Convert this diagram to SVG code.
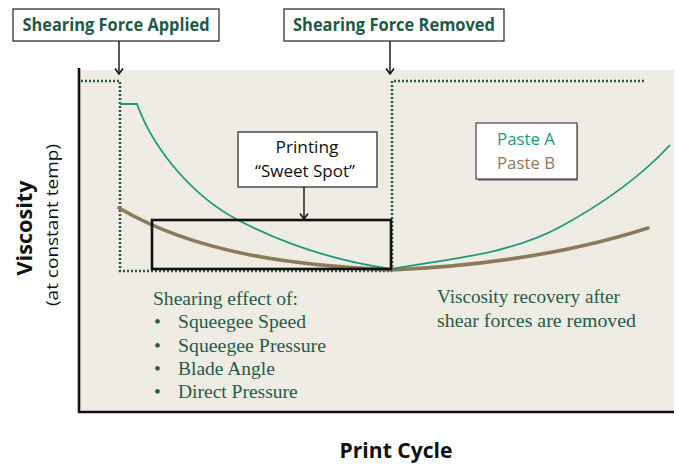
<svg xmlns="http://www.w3.org/2000/svg" width="679" height="464" viewBox="0 0 679 464">
  <defs>
    <marker id="chev" markerWidth="10" markerHeight="10" refX="8.5" refY="5" orient="auto" markerUnits="userSpaceOnUse" viewBox="0 0 10 10">
      <path d="M3,1 L8.5,5 L3,9" fill="none" stroke="#111" stroke-width="1.6"/>
    </marker>
  </defs>
  <style>
    .callout { fill: #fff; stroke: #222; stroke-width: 1.2; }
    .hdr { font-family: "Open Sans", "Liberation Sans", sans-serif; font-weight: bold; font-size: 17.5px; fill: #1f5a45; }
    .sans { font-family: "Open Sans", "Liberation Sans", sans-serif; font-size: 16.5px; }
    .serif { font-family: "Liberation Serif", "DejaVu Serif", serif; font-size: 19.5px; fill: #245c48; }
    .dots { fill: none; stroke: #2b5a47; stroke-width: 2.6; stroke-dasharray: 2 2; }
    .lead { stroke: #111; stroke-width: 1.4; fill: none; marker-end: url(#chev); }
    .axis { stroke: #111; stroke-width: 2.6; fill: none; }
    .ttl { font-family: "Open Sans", "Liberation Sans", sans-serif; font-weight: bold; font-size: 22px; fill: #111; }
  </style>

  <!-- plot panel -->
  <rect x="80" y="70" width="594" height="341" fill="#efece4"/>
  <line class="axis" x1="79" y1="68" x2="79" y2="412"/>
  <line class="axis" x1="78" y1="412" x2="674" y2="412"/>

  <g id="connectors">
    <line class="lead" x1="119" y1="41" x2="119" y2="74"/>
    <line class="lead" x1="390" y1="41" x2="390" y2="74"/>
    <line class="lead" x1="304" y1="187" x2="304" y2="219"/>
  </g>

  <!-- shear regime boundaries -->
  <path class="dots" d="M81,81 H120 V271 H392"/>
  <path class="dots" d="M392,271 V81 H645"/>

  <!-- viscosity curves -->
  <path id="paste-b" d="M119,208 C199,255 298,265.4 391,270 C478,266 565,255 648,228" fill="none" stroke="#8b7b5a" stroke-width="3.6" stroke-linecap="round"/>
  <path id="paste-a" d="M120,104 H137 C154,151 194,197 238,220 C285,244.5 338.5,261.3 391,269 C448,259 509,254.5 560,227 C600.5,205 639,178.6 670,145" fill="none" stroke="#1a9a7d" stroke-width="1.8"/>

  <g id="sweet-spot-window">
    <rect x="152" y="220" width="239" height="49" fill="none" stroke="#111" stroke-width="2.6"/>
  </g>

  <g id="applied">
    <rect class="callout" x="13" y="9" width="206" height="32"/>
    <text class="hdr" x="116" y="31" text-anchor="middle" textLength="187" lengthAdjust="spacingAndGlyphs">Shearing Force Applied</text>
  </g>

  <g id="removed">
    <rect class="callout" x="284" y="9" width="220" height="32"/>
    <text class="hdr" x="394" y="31" text-anchor="middle" textLength="202" lengthAdjust="spacingAndGlyphs">Shearing Force Removed</text>
  </g>

  <g id="sweet-spot">
    <rect class="callout" x="238" y="132" width="139" height="55"/>
    <text class="sans" x="307" y="153" text-anchor="middle" fill="#111" textLength="63" lengthAdjust="spacingAndGlyphs">Printing</text>
    <text class="sans" x="305" y="177" text-anchor="middle" fill="#111" textLength="100" lengthAdjust="spacingAndGlyphs">“Sweet Spot”</text>
  </g>

  <g id="legend">
    <rect x="478" y="125" width="100" height="56" fill="#9a9a9a"/>
    <rect x="476" y="123" width="101" height="56" fill="#fff" stroke="#222" stroke-width="1"/>
    <text class="sans" x="526" y="145" text-anchor="middle" fill="#1a9a7d" textLength="58" lengthAdjust="spacingAndGlyphs">Paste A</text>
    <text class="sans" x="526" y="169" text-anchor="middle" fill="#8b7b5a" textLength="58" lengthAdjust="spacingAndGlyphs">Paste B</text>
  </g>

  <g id="shear-notes">
    <text class="serif" x="153" y="305" textLength="145" lengthAdjust="spacingAndGlyphs">Shearing effect of:</text>
    <text class="serif" x="154" y="328">•</text>
    <text class="serif" x="178" y="328" textLength="128" lengthAdjust="spacingAndGlyphs">Squeegee Speed</text>
    <text class="serif" x="154" y="352">•</text>
    <text class="serif" x="178" y="352" textLength="148" lengthAdjust="spacingAndGlyphs">Squeegee Pressure</text>
    <text class="serif" x="154" y="375">•</text>
    <text class="serif" x="178" y="375">Blade Angle</text>
    <text class="serif" x="154" y="398">•</text>
    <text class="serif" x="178" y="398">Direct Pressure</text>
  </g>

  <g id="recovery-note">
    <text class="serif" x="437" y="303" textLength="183" lengthAdjust="spacingAndGlyphs">Viscosity recovery after</text>
    <text class="serif" x="437" y="327" textLength="199" lengthAdjust="spacingAndGlyphs">shear forces are removed</text>
  </g>

  <g id="y-label">
    <text class="ttl" transform="translate(32,228) rotate(-90)" text-anchor="middle" textLength="95" lengthAdjust="spacingAndGlyphs">Viscosity</text>
    <text transform="translate(58,225) rotate(-90)" text-anchor="middle" font-family="Open Sans, Liberation Sans, sans-serif" font-size="17" fill="#111" textLength="162" lengthAdjust="spacingAndGlyphs">(at constant temp)</text>
  </g>

  <g id="x-label">
    <text class="ttl" x="396" y="458" text-anchor="middle" textLength="113" lengthAdjust="spacingAndGlyphs">Print Cycle</text>
  </g>
</svg>
